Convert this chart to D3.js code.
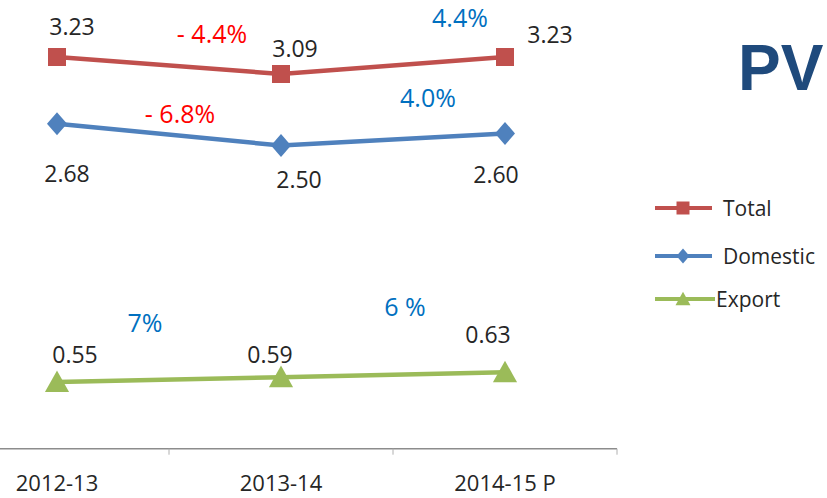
<!DOCTYPE html>
<html>
<head>
<meta charset="utf-8">
<script src="https://cdn.jsdelivr.net/npm/d3@7"></script>
<style>
  body { margin: 0; background: #fff; }
  text { font-family: "Open Sans", sans-serif; }
</style>
</head>
<body>
<div id="chart"></div>
<script>
// data
const years = ["2012-13", "2013-14", "2014-15 P"];
const seriesNames = ["Total", "Domestic", "Export"];
const totalValues = [3.23, 3.09, 3.23];
const domesticValues = [2.68, 2.50, 2.60];
const exportValues = [0.55, 0.59, 0.63];
const totalGrowth = ["- 4.4%", "4.4%"];
const domesticGrowth = ["- 6.8%", "4.0%"];
const exportGrowth = ["7%", "6 %"];

const width = 827;
const height = 498;

const svg = d3.select("#chart")
    .append("svg")
    .attr("width", width)
    .attr("height", height);

const x = d3.scaleBand().domain(years).range([-55, 617]);
const y = d3.scaleLinear().domain([0, 3.7]).range([448.7, 0]);
const cx = d => x(d) + x.bandwidth() / 2;

// label offsets (value labels around points, growth labels around segment midpoints)
const series = [
    { name: "Total", values: totalValues, growth: totalGrowth, color: "#C0504D", shape: "square",
      labelOff: [[15, -22], [14, -17], [45, -14]],
      growthOff: [[43, -22], [67, -38]], growthColor: ["#FF0000", "#0070C0"] },
    { name: "Domestic", values: domesticValues, growth: domesticGrowth, color: "#4F81BD", shape: "diamond",
      labelOff: [[10, 58], [18, 42], [-9, 50]],
      growthOff: [[11, -12], [35, -32]], growthColor: ["#FF0000", "#0070C0"] },
    { name: "Export", values: exportValues, growth: exportGrowth, color: "#9BBB59", shape: "triangle",
      labelOff: [[18, -19], [-11, -14], [-17, -29]],
      growthOff: [[-24, -48], [12, -59]], growthColor: ["#0070C0", "#0070C0"] }
];

function markerPath(shape, s) {
    if (shape === "square") return `M${-s},${-s}H${s}V${s}H${-s}Z`;
    if (shape === "diamond") return `M0,${-s * 1.15}L${s},0L0,${s * 1.15}L${-s},0Z`;
    return `M0,${-s * 1.1}L${s * 1.15},${s * 0.95}L${-s * 1.15},${s * 0.95}Z`;
}
const markerSize = { square: 9, diamond: 10, triangle: 10.5 };

// x axis
const axis = svg.append("g").attr("transform", `translate(0,${y(0)})`);
axis.append("line")
    .attr("x1", 0).attr("x2", x.range()[1])
    .attr("stroke", "#8c8c8c").attr("stroke-width", 1.5);
axis.selectAll(".tick-mark")
    .data(years)
    .enter().append("line")
    .attr("x1", d => x(d) + x.bandwidth())
    .attr("x2", d => x(d) + x.bandwidth())
    .attr("y1", 0).attr("y2", 6)
    .attr("stroke", "#b0b0b0").attr("stroke-width", 1);
axis.selectAll(".tick-label")
    .data(years)
    .enter().append("text")
    .attr("x", d => cx(d))
    .attr("y", 42)
    .attr("text-anchor", "middle")
    .style("font-size", "22px")
    .style("fill", "#262626")
    .text(d => d);

const line = d3.line()
    .x((d, i) => cx(years[i]))
    .y(d => y(d));

series.forEach(s => {
    const g = svg.append("g");
    g.append("path")
        .datum(s.values)
        .attr("d", line)
        .attr("fill", "none")
        .attr("stroke", s.color)
        .attr("stroke-width", 4.5);

    g.selectAll(".marker")
        .data(s.values)
        .enter().append("path")
        .attr("transform", (d, i) => `translate(${cx(years[i])},${y(d)})`)
        .attr("d", markerPath(s.shape, markerSize[s.shape]))
        .attr("fill", s.color);

    g.selectAll(".value")
        .data(s.values)
        .enter().append("text")
        .attr("x", (d, i) => cx(years[i]) + s.labelOff[i][0])
        .attr("y", (d, i) => y(d) + s.labelOff[i][1])
        .attr("text-anchor", "middle")
        .style("font-size", "23px")
        .style("fill", "#262626")
        .text(d => d.toFixed(2));

    g.selectAll(".growth")
        .data(s.growth)
        .enter().append("text")
        .attr("x", (d, i) => (cx(years[i]) + cx(years[i + 1])) / 2 + s.growthOff[i][0])
        .attr("y", (d, i) => (y(s.values[i]) + y(s.values[i + 1])) / 2 + s.growthOff[i][1])
        .attr("text-anchor", "middle")
        .style("font-size", "25px")
        .style("fill", (d, i) => s.growthColor[i])
        .text(d => d);
});

// legend
const legendY = [208, 256, 299];
const legendTextX = [723, 723, 716];
const legendLineEnd = [712, 712, 715];
const legend = svg.append("g");
series.forEach((s, i) => {
    legend.append("line")
        .attr("x1", 655).attr("x2", legendLineEnd[i])
        .attr("y1", legendY[i]).attr("y2", legendY[i])
        .attr("stroke", s.color).attr("stroke-width", 4);
    legend.append("path")
        .attr("transform", `translate(683,${legendY[i]})`)
        .attr("d", markerPath(s.shape, 6.5))
        .attr("fill", s.color);
    legend.append("text")
        .attr("x", legendTextX[i])
        .attr("y", legendY[i] + 8)
        .style("font-size", "21px")
        .style("fill", "#262626")
        .text(seriesNames[i]);
});

// title
svg.append("text")
    .attr("x", 738)
    .attr("y", 90)
    .style("font-family", "'Liberation Sans', Arial, sans-serif")
    .style("font-weight", "bold")
    .style("font-size", "64px")
    .style("fill", "#1F4A7C")
    .text("PV");
</script>
</body>
</html>
